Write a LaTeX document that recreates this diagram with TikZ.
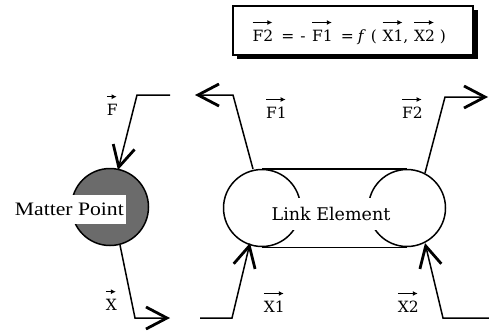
\documentclass[tikz,border=0pt]{standalone}
\usepackage{fontspec}
\setmainfont{DejaVu Serif}
\newfontfamily\mpfont[FakeStretch=1.14]{Liberation Serif}
\usetikzlibrary{arrows.meta}
\tikzset{
  vvreset/.style={inner sep=0pt, outer sep=0pt, minimum width=0pt, minimum height=0pt, draw=none, fill=none, shape=rectangle, anchor=center},
  vvarrow/.style={draw, fill=none, line width=1.3pt, -{Latex[length=5pt,width=5pt]}},
}
\newcommand{\vv}[1]{\tikz[baseline=(vv.base)]{\node[vvreset](vv){#1};\draw[vvarrow]([yshift=7pt]vv.north west)--([yshift=7pt,xshift=-1pt]vv.north east);}}
\tikzset{
  conn/.style={line width=1.5pt, line join=miter},
  bigtip/.style={-{Straight Barb[length=21pt,width=22pt,line width=2.8pt]}},
  lbl/.style={inner sep=0pt, anchor=base, font=\fontsize{15.5}{17}\selectfont},
  ring/.style={draw, line width=1.5pt, circle, minimum size=77pt, inner sep=0pt},
}
\begin{document}
\begin{tikzpicture}[x=1pt,y=-1pt]
\useasboundingbox (0,0) rectangle (489,330);
% equation box
\fill[black] (237,10) rectangle (478,59);
\node[draw, line width=1.8pt, fill=white, minimum width=240pt, minimum height=49pt, anchor=north west, inner sep=0pt] (eqbox) at (232,5) {};
\node[inner sep=0pt, anchor=base, font=\fontsize{15.5}{17}\selectfont] (eq) at (349,41) {\vv{F2}\hspace{8pt}=\hspace{6pt}-\hspace{6pt}\vv{F1}\hspace{8pt}=\hspace{4pt}\textit{f}\hspace{5pt}(\hspace{5pt}\vv{X1},\hspace{5pt}\vv{X2}\hspace{5pt})};
% matter point
\node[ring, fill=black!58] (mp) at (110,207) {};
\node[fill=white, inner sep=2pt, anchor=east, minimum height=29pt, font=\mpfont\fontsize{19}{20}\selectfont] (mpt) at (126,209) {Matter Point};
% link element
\node[ring] (c1) at (262,208) {};
\node[ring] (c2) at (407,208) {};
\draw[line width=1.5pt] (c1.north) -- (c2.north);
\draw[line width=1.5pt] (c1.south) -- (c2.south);
\node[fill=white, inner sep=0pt, minimum width=126pt, minimum height=32pt, font=\fontsize{17.5}{19}\selectfont] (le) at (331,214) {Link Element};
% anchor points
\coordinate (fTop) at (118,170);
\coordinate (xBot) at (120,245);
\coordinate (f1p) at (253,169);
\coordinate (f2p) at (425,173);
\coordinate (x1p) at (250,243);
\coordinate (x2p) at (425,243);
\coordinate (fS) at (170,95);
\coordinate (xE) at (170,318);
\coordinate (f1E) at (195,95);
\coordinate (f2E) at (488,97);
\coordinate (x1S) at (200,318);
\coordinate (x2S) at (489,318);
% connectors
\draw[conn, bigtip] (fS) -- (137,95) -- (fTop);
\draw[conn, bigtip] (xBot) -- (135,318) -- (xE);
\draw[conn, bigtip] (f1p) -- (233,95) -- (f1E);
\draw[conn, bigtip] (f2p) -- (445,97) -- (f2E);
\draw[conn, bigtip] (x1S) -- (232,318) -- (x1p);
\draw[conn, bigtip] (x2S) -- (443,318) -- (x2p);
% labels
\node[lbl] (lF) at (112,115) {\vv{F}};
\node[lbl] (lX) at (111,310) {\vv{X}};
\node[lbl] (lF1) at (276,118) {\vv{F1}};
\node[lbl] (lF2) at (412,118) {\vv{F2}};
\node[lbl] (lX1) at (274,312) {\vv{X1}};
\node[lbl] (lX2) at (408,312) {\vv{X2}};
\end{tikzpicture}
\end{document}
